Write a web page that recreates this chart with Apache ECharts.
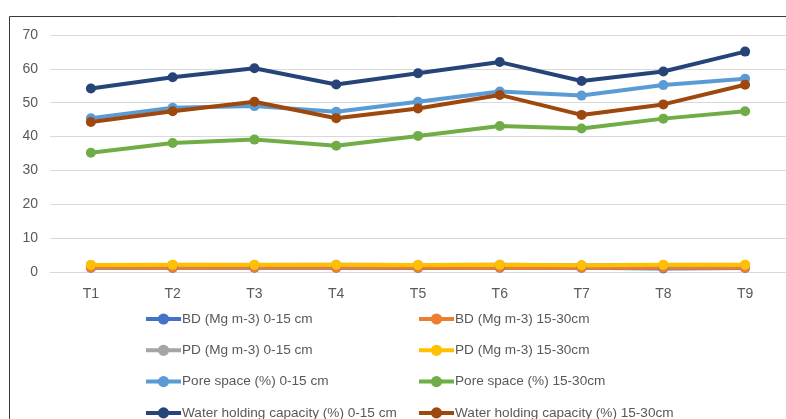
<!DOCTYPE html>
<html>
<head>
<meta charset="utf-8">
<script src="https://cdn.jsdelivr.net/npm/echarts@6/dist/echarts.min.js"></script>
<style>
  html, body { margin: 0; padding: 0; background: #fff; }
  #chart { width: 786px; height: 419px; }
</style>
</head>
<body>
<div id="chart"></div>
<script>
// Soil physical properties across treatments T1–T9
const categories = ['T1', 'T2', 'T3', 'T4', 'T5', 'T6', 'T7', 'T8', 'T9'];

const bd0_15   = [1.25, 1.22, 1.28, 1.24, 1.20, 1.26, 1.23, 1.05, 1.18];
const bd15_30  = [1.30, 1.28, 1.32, 1.30, 1.27, 1.33, 1.29, 1.27, 1.24];
const pd0_15   = [2.05, 2.10, 2.08, 2.12, 2.06, 2.11, 1.98, 2.07, 2.09];
const pd15_30  = [2.10, 2.15, 2.12, 2.16, 2.10, 2.14, 2.02, 2.12, 2.15];
const pore0_15 = [45.4, 48.5, 49.0, 47.3, 50.3, 53.3, 52.1, 55.2, 57.1];
const pore15_30 = [35.2, 38.1, 39.1, 37.3, 40.2, 43.1, 42.4, 45.3, 47.5];
const whc0_15  = [54.2, 57.5, 60.2, 55.4, 58.7, 62.0, 56.4, 59.2, 65.1];
const whc15_30 = [44.3, 47.5, 50.3, 45.4, 48.3, 52.3, 46.4, 49.5, 55.3];

const yTicks = { min: 0, max: 70, interval: 10 };

const seriesDefs = [
  { name: 'BD (Mg m-3) 0-15 cm', data: bd0_15, color: '#4472C4' },
  { name: 'BD (Mg m-3) 15-30cm', data: bd15_30, color: '#ED7D31' },
  { name: 'PD (Mg m-3) 0-15 cm', data: pd0_15, color: '#A5A5A5' },
  { name: 'PD (Mg m-3) 15-30cm', data: pd15_30, color: '#FFC000' },
  { name: 'Pore space (%) 0-15 cm', data: pore0_15, color: '#5B9BD5' },
  { name: 'Pore space (%) 15-30cm', data: pore15_30, color: '#70AD47' },
  { name: 'Water holding capacity (%) 0-15 cm', data: whc0_15, color: '#264478' },
  { name: 'Water holding capacity (%) 15-30cm', data: whc15_30, color: '#9E480E' }
];

const fontFamily = '"Liberation Sans", Arial, sans-serif';
const textColor = '#595959';

// Two-column legend: one legend component per entry, laid out row by row
const legendCols = [144, 417];
const legendRowTop = 312;
const legendRowStep = 31.3;
const legends = seriesDefs.map((s, i) => ({
  left: legendCols[i % 2],
  top: legendRowTop + Math.floor(i / 2) * legendRowStep,
  padding: 0,
  itemWidth: 35,
  itemHeight: 14,
  selectedMode: false,
  lineStyle: { width: 4 },
  textStyle: { fontFamily, fontSize: 13.6, color: textColor, padding: [0, 0, 0, -4] },
  data: [s.name]
}));

const chart = echarts.init(document.getElementById('chart'));
chart.setOption({
  animation: false,
  backgroundColor: '#fff',
  graphic: [{
    type: 'rect',
    shape: { x: 9.5, y: 16.5, width: 800, height: 420 },
    style: { fill: 'none', stroke: '#3a3a3a', lineWidth: 1 },
    silent: true
  }],
  grid: { left: 50, top: 35, width: 751, height: 237, containLabel: false },
  legend: legends,
  xAxis: {
    type: 'category',
    data: categories,
    boundaryGap: true,
    axisLine: { show: true, lineStyle: { color: '#d9d9d9', width: 1 } },
    axisTick: { show: false },
    axisLabel: { fontFamily, fontSize: 14, color: textColor, margin: 15 }
  },
  yAxis: {
    type: 'value',
    min: yTicks.min,
    max: yTicks.max,
    interval: yTicks.interval,
    axisLine: { show: false },
    axisTick: { show: false },
    splitLine: { lineStyle: { color: '#d9d9d9', width: 1 } },
    axisLabel: { fontFamily, fontSize: 14, color: textColor, margin: 12 }
  },
  series: seriesDefs.map(s => ({
    name: s.name,
    type: 'line',
    data: s.data,
    color: s.color,
    symbol: 'circle',
    symbolSize: 10,
    lineStyle: { width: 4, color: s.color },
    itemStyle: { color: s.color },
    emphasis: { disabled: true }
  }))
});
</script>
</body>
</html>
